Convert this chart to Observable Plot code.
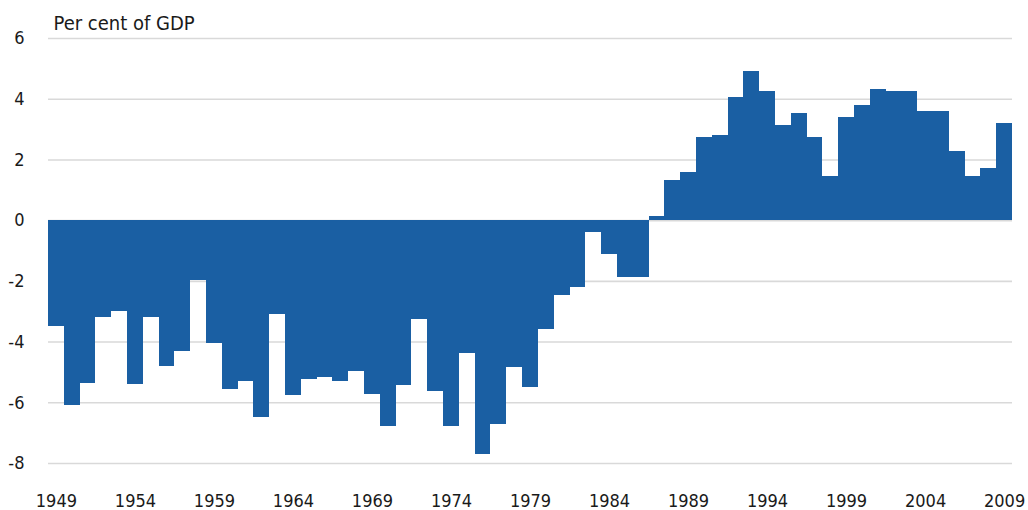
<!DOCTYPE html>
<html>
<head>
<meta charset="utf-8">
<script src="https://cdn.jsdelivr.net/npm/d3@7"></script>
<script src="https://cdn.jsdelivr.net/npm/@observablehq/plot@0.6"></script>
<style>
  html, body { margin: 0; padding: 0; background: #fff; }
  #chart svg { font-family: "DejaVu Sans Condensed", "DejaVu Sans", sans-serif; font-stretch: condensed; display: block; }
</style>
</head>
<body>
<div id="chart"></div>
<script>
const years = d3.range(1949, 2010);
const values = [
  -3.5, -6.1, -5.35, -3.2, -3.0, -5.4, -3.2, -4.8, -4.3, -1.97,
  -4.05, -5.55, -5.3, -6.47, -3.08, -5.75, -5.22, -5.17, -5.29, -4.97,
  -5.74, -6.79, -5.42, -3.27, -5.62, -6.79, -4.38, -7.7, -6.72, -4.85,
  -5.48, -3.59, -2.48, -2.21, -0.38, -1.1, -1.88, -1.88, 0.13, 1.31,
  1.58, 2.75, 2.82, 4.06, 4.91, 4.25, 3.14, 3.54, 2.75, 1.45,
  3.41, 3.8, 4.32, 4.27, 4.27, 3.61, 3.61, 2.29, 1.45, 1.71,
  3.21
];
const xTicks = d3.range(1949, 2010, 5);
const yTicks = [-8, -6, -4, -2, 0, 2, 4, 6];
const yTitle = "Per cent of GDP";

const data = years.map((year, i) => ({year, value: values[i]}));

const chart = Plot.plot({
  width: 1028,
  height: 510,
  marginLeft: 48,
  marginRight: 16,
  marginTop: 38,
  marginBottom: 47,
  style: {fontSize: "18px", color: "#1a1a1a", background: "#fff"},
  x: {type: "band", domain: years, padding: 0, label: null},
  y: {domain: [-8, 6], label: null},
  marks: [
    Plot.ruleY(yTicks, {stroke: "#d9d9d9", strokeWidth: 1.6}),
    Plot.barY(data, {x: "year", y: "value", fill: "#1a5fa3", shapeRendering: "crispEdges"}),
    Plot.axisY({ticks: yTicks, tickSize: 0, tickPadding: 24, tickFormat: d => String(d), label: null, fontSize: 18}),
    Plot.axisX({ticks: xTicks, tickSize: 0, tickPadding: 31, label: null, tickFormat: d => String(d), fontSize: 18}),
    Plot.text([yTitle], {frameAnchor: "top-left", text: d => d, dx: 5, dy: -9, textAnchor: "start", lineAnchor: "bottom", fontSize: 20, fill: "#1a1a1a"})
  ]
});
document.getElementById("chart").appendChild(chart);
</script>
</body>
</html>
